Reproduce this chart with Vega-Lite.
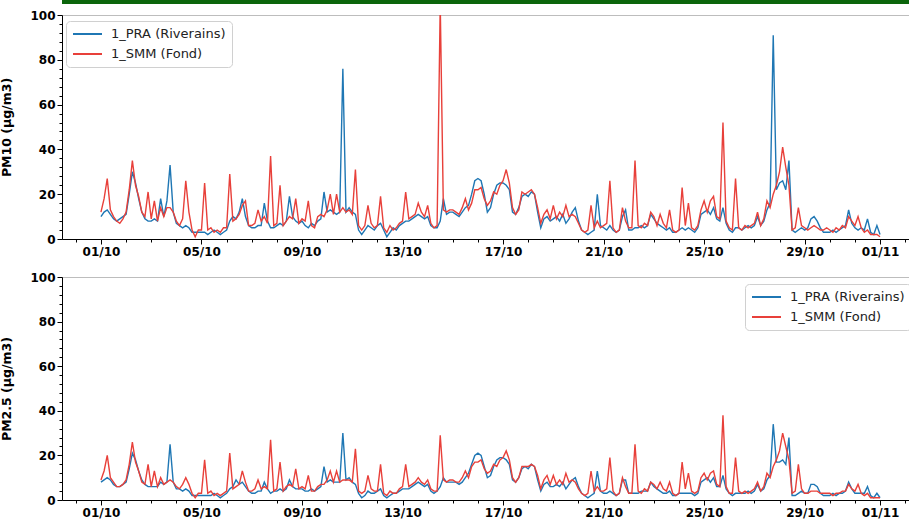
{
  "$schema": "https://vega.github.io/schema/vega-lite/v6.json",
  "padding": 0,
  "background": "white",
  "spacing": 4,
  "config": {
    "view": {"stroke": "#bdbdbd", "strokeWidth": 1},
    "axis": {"grid": false, "domainColor": "#000", "domainWidth": 1, "tickColor": "#000", "labelFont": "DejaVu Sans", "labelFontWeight": "bold", "labelFontSize": 12, "labelColor": "#000", "titleFont": "DejaVu Sans", "titleFontWeight": "bold", "titleFontSize": 12.5, "titleColor": "#000"}
  },
  "datasets": {
    "pm": [
      {"t":"2019-10-01 00:00","p10":10,"s10":12,"p25":8,"s25":9},
      {"t":"2019-10-01 03:00","p10":12,"s10":18,"p25":9,"s25":13},
      {"t":"2019-10-01 06:00","p10":13,"s10":27,"p25":10,"s25":20},
      {"t":"2019-10-01 09:00","p10":11,"s10":13,"p25":9,"s25":10},
      {"t":"2019-10-01 12:00","p10":9,"s10":10,"p25":7,"s25":8},
      {"t":"2019-10-01 15:00","p10":8,"s10":8,"p25":6,"s25":6},
      {"t":"2019-10-01 18:00","p10":9,"s10":7,"p25":6,"s25":6},
      {"t":"2019-10-01 21:00","p10":10,"s10":9,"p25":7,"s25":7},
      {"t":"2019-10-02 00:00","p10":11,"s10":12,"p25":8,"s25":9},
      {"t":"2019-10-02 03:00","p10":20,"s10":22,"p25":14,"s25":16},
      {"t":"2019-10-02 06:00","p10":30,"s10":35,"p25":21,"s25":26},
      {"t":"2019-10-02 09:00","p10":25,"s10":24,"p25":18,"s25":17},
      {"t":"2019-10-02 12:00","p10":18,"s10":19,"p25":13,"s25":13},
      {"t":"2019-10-02 15:00","p10":12,"s10":12,"p25":9,"s25":8},
      {"t":"2019-10-02 18:00","p10":9,"s10":10,"p25":7,"s25":7},
      {"t":"2019-10-02 21:00","p10":8,"s10":21,"p25":6,"s25":16},
      {"t":"2019-10-03 00:00","p10":8,"s10":9,"p25":6,"s25":6},
      {"t":"2019-10-03 03:00","p10":9,"s10":17,"p25":6,"s25":13},
      {"t":"2019-10-03 06:00","p10":8,"s10":8,"p25":6,"s25":6},
      {"t":"2019-10-03 09:00","p10":18,"s10":14,"p25":8,"s25":10},
      {"t":"2019-10-03 12:00","p10":10,"s10":10,"p25":7,"s25":7},
      {"t":"2019-10-03 15:00","p10":17,"s10":14,"p25":8,"s25":8},
      {"t":"2019-10-03 18:00","p10":33,"s10":14,"p25":25,"s25":9},
      {"t":"2019-10-03 21:00","p10":12,"s10":12,"p25":8,"s25":8},
      {"t":"2019-10-04 00:00","p10":7,"s10":8,"p25":5,"s25":6},
      {"t":"2019-10-04 03:00","p10":6,"s10":6,"p25":5,"s25":5},
      {"t":"2019-10-04 06:00","p10":5,"s10":9,"p25":4,"s25":7},
      {"t":"2019-10-04 09:00","p10":6,"s10":26,"p25":5,"s25":10},
      {"t":"2019-10-04 12:00","p10":5,"s10":12,"p25":4,"s25":7},
      {"t":"2019-10-04 15:00","p10":3,"s10":4,"p25":2,"s25":3},
      {"t":"2019-10-04 18:00","p10":3,"s10":1,"p25":2,"s25":1},
      {"t":"2019-10-04 21:00","p10":3,"s10":4,"p25":2,"s25":3},
      {"t":"2019-10-05 00:00","p10":3,"s10":4,"p25":2,"s25":3},
      {"t":"2019-10-05 03:00","p10":3,"s10":25,"p25":2,"s25":18},
      {"t":"2019-10-05 06:00","p10":2,"s10":4,"p25":2,"s25":3},
      {"t":"2019-10-05 09:00","p10":3,"s10":5,"p25":2,"s25":4},
      {"t":"2019-10-05 12:00","p10":4,"s10":3,"p25":3,"s25":2},
      {"t":"2019-10-05 15:00","p10":3,"s10":4,"p25":2,"s25":3},
      {"t":"2019-10-05 18:00","p10":2,"s10":3,"p25":1,"s25":2},
      {"t":"2019-10-05 21:00","p10":3,"s10":5,"p25":2,"s25":3},
      {"t":"2019-10-06 00:00","p10":4,"s10":5,"p25":3,"s25":4},
      {"t":"2019-10-06 03:00","p10":8,"s10":29,"p25":5,"s25":21},
      {"t":"2019-10-06 06:00","p10":10,"s10":8,"p25":6,"s25":5},
      {"t":"2019-10-06 09:00","p10":9,"s10":9,"p25":9,"s25":6},
      {"t":"2019-10-06 12:00","p10":12,"s10":11,"p25":7,"s25":7},
      {"t":"2019-10-06 15:00","p10":18,"s10":15,"p25":8,"s25":13},
      {"t":"2019-10-06 18:00","p10":10,"s10":17,"p25":6,"s25":8},
      {"t":"2019-10-06 21:00","p10":6,"s10":6,"p25":4,"s25":4},
      {"t":"2019-10-07 00:00","p10":5,"s10":6,"p25":3,"s25":4},
      {"t":"2019-10-07 03:00","p10":5,"s10":7,"p25":3,"s25":5},
      {"t":"2019-10-07 06:00","p10":6,"s10":13,"p25":4,"s25":9},
      {"t":"2019-10-07 09:00","p10":6,"s10":8,"p25":4,"s25":5},
      {"t":"2019-10-07 12:00","p10":16,"s10":10,"p25":8,"s25":6},
      {"t":"2019-10-07 15:00","p10":8,"s10":7,"p25":5,"s25":5},
      {"t":"2019-10-07 18:00","p10":5,"s10":37,"p25":3,"s25":27},
      {"t":"2019-10-07 21:00","p10":5,"s10":6,"p25":4,"s25":4},
      {"t":"2019-10-08 00:00","p10":6,"s10":7,"p25":4,"s25":5},
      {"t":"2019-10-08 03:00","p10":7,"s10":24,"p25":5,"s25":17},
      {"t":"2019-10-08 06:00","p10":6,"s10":6,"p25":4,"s25":4},
      {"t":"2019-10-08 09:00","p10":8,"s10":8,"p25":5,"s25":6},
      {"t":"2019-10-08 12:00","p10":19,"s10":10,"p25":9,"s25":7},
      {"t":"2019-10-08 15:00","p10":10,"s10":9,"p25":6,"s25":6},
      {"t":"2019-10-08 18:00","p10":8,"s10":18,"p25":5,"s25":14},
      {"t":"2019-10-08 21:00","p10":7,"s10":7,"p25":5,"s25":5},
      {"t":"2019-10-09 00:00","p10":8,"s10":9,"p25":5,"s25":6},
      {"t":"2019-10-09 03:00","p10":6,"s10":8,"p25":4,"s25":5},
      {"t":"2019-10-09 06:00","p10":5,"s10":17,"p25":4,"s25":11},
      {"t":"2019-10-09 09:00","p10":7,"s10":6,"p25":5,"s25":4},
      {"t":"2019-10-09 12:00","p10":6,"s10":5,"p25":4,"s25":4},
      {"t":"2019-10-09 15:00","p10":8,"s10":10,"p25":5,"s25":6},
      {"t":"2019-10-09 18:00","p10":9,"s10":11,"p25":6,"s25":7},
      {"t":"2019-10-09 21:00","p10":21,"s10":10,"p25":15,"s25":7},
      {"t":"2019-10-10 00:00","p10":12,"s10":13,"p25":8,"s25":9},
      {"t":"2019-10-10 03:00","p10":13,"s10":20,"p25":9,"s25":13},
      {"t":"2019-10-10 06:00","p10":12,"s10":11,"p25":8,"s25":8},
      {"t":"2019-10-10 09:00","p10":11,"s10":20,"p25":8,"s25":13},
      {"t":"2019-10-10 12:00","p10":12,"s10":12,"p25":8,"s25":8},
      {"t":"2019-10-10 15:00","p10":76,"s10":14,"p25":30,"s25":9},
      {"t":"2019-10-10 18:00","p10":12,"s10":12,"p25":9,"s25":9},
      {"t":"2019-10-10 21:00","p10":14,"s10":13,"p25":10,"s25":9},
      {"t":"2019-10-11 00:00","p10":12,"s10":11,"p25":8,"s25":8},
      {"t":"2019-10-11 03:00","p10":11,"s10":31,"p25":7,"s25":23},
      {"t":"2019-10-11 06:00","p10":4,"s10":6,"p25":3,"s25":4},
      {"t":"2019-10-11 09:00","p10":2,"s10":4,"p25":1,"s25":3},
      {"t":"2019-10-11 12:00","p10":4,"s10":6,"p25":2,"s25":4},
      {"t":"2019-10-11 15:00","p10":6,"s10":15,"p25":4,"s25":11},
      {"t":"2019-10-11 18:00","p10":5,"s10":7,"p25":3,"s25":5},
      {"t":"2019-10-11 21:00","p10":4,"s10":5,"p25":3,"s25":4},
      {"t":"2019-10-12 00:00","p10":6,"s10":6,"p25":4,"s25":4},
      {"t":"2019-10-12 03:00","p10":7,"s10":19,"p25":5,"s25":16},
      {"t":"2019-10-12 06:00","p10":4,"s10":5,"p25":2,"s25":3},
      {"t":"2019-10-12 09:00","p10":1,"s10":3,"p25":1,"s25":2},
      {"t":"2019-10-12 12:00","p10":3,"s10":6,"p25":2,"s25":4},
      {"t":"2019-10-12 15:00","p10":5,"s10":4,"p25":3,"s25":3},
      {"t":"2019-10-12 18:00","p10":4,"s10":5,"p25":3,"s25":3},
      {"t":"2019-10-12 21:00","p10":6,"s10":7,"p25":4,"s25":5},
      {"t":"2019-10-13 00:00","p10":7,"s10":8,"p25":5,"s25":6},
      {"t":"2019-10-13 03:00","p10":8,"s10":21,"p25":5,"s25":16},
      {"t":"2019-10-13 06:00","p10":8,"s10":9,"p25":5,"s25":6},
      {"t":"2019-10-13 09:00","p10":9,"s10":10,"p25":6,"s25":7},
      {"t":"2019-10-13 12:00","p10":10,"s10":11,"p25":7,"s25":8},
      {"t":"2019-10-13 15:00","p10":11,"s10":16,"p25":8,"s25":10},
      {"t":"2019-10-13 18:00","p10":10,"s10":12,"p25":7,"s25":8},
      {"t":"2019-10-13 21:00","p10":9,"s10":10,"p25":6,"s25":7},
      {"t":"2019-10-14 00:00","p10":10,"s10":15,"p25":7,"s25":9},
      {"t":"2019-10-14 03:00","p10":6,"s10":7,"p25":4,"s25":5},
      {"t":"2019-10-14 06:00","p10":5,"s10":5,"p25":3,"s25":4},
      {"t":"2019-10-14 09:00","p10":5,"s10":6,"p25":4,"s25":4},
      {"t":"2019-10-14 12:00","p10":8,"s10":105,"p25":6,"s25":29},
      {"t":"2019-10-14 15:00","p10":18,"s10":13,"p25":10,"s25":9},
      {"t":"2019-10-14 18:00","p10":11,"s10":12,"p25":8,"s25":8},
      {"t":"2019-10-14 21:00","p10":12,"s10":13,"p25":8,"s25":9},
      {"t":"2019-10-15 00:00","p10":12,"s10":13,"p25":8,"s25":9},
      {"t":"2019-10-15 03:00","p10":11,"s10":12,"p25":8,"s25":8},
      {"t":"2019-10-15 06:00","p10":10,"s10":11,"p25":7,"s25":8},
      {"t":"2019-10-15 09:00","p10":12,"s10":14,"p25":8,"s25":10},
      {"t":"2019-10-15 12:00","p10":14,"s10":18,"p25":10,"s25":13},
      {"t":"2019-10-15 15:00","p10":15,"s10":13,"p25":12,"s25":10},
      {"t":"2019-10-15 18:00","p10":20,"s10":16,"p25":16,"s25":15},
      {"t":"2019-10-15 21:00","p10":26,"s10":22,"p25":20,"s25":17},
      {"t":"2019-10-16 00:00","p10":27,"s10":22,"p25":21,"s25":17},
      {"t":"2019-10-16 03:00","p10":26,"s10":23,"p25":20,"s25":18},
      {"t":"2019-10-16 06:00","p10":20,"s10":18,"p25":15,"s25":14},
      {"t":"2019-10-16 09:00","p10":12,"s10":15,"p25":10,"s25":12},
      {"t":"2019-10-16 12:00","p10":14,"s10":17,"p25":11,"s25":13},
      {"t":"2019-10-16 15:00","p10":20,"s10":21,"p25":15,"s25":16},
      {"t":"2019-10-16 18:00","p10":24,"s10":20,"p25":18,"s25":15},
      {"t":"2019-10-16 21:00","p10":25,"s10":24,"p25":19,"s25":18},
      {"t":"2019-10-17 00:00","p10":25,"s10":26,"p25":19,"s25":19},
      {"t":"2019-10-17 03:00","p10":24,"s10":31,"p25":18,"s25":22},
      {"t":"2019-10-17 06:00","p10":22,"s10":25,"p25":16,"s25":18},
      {"t":"2019-10-17 09:00","p10":12,"s10":14,"p25":9,"s25":10},
      {"t":"2019-10-17 12:00","p10":11,"s10":11,"p25":8,"s25":8},
      {"t":"2019-10-17 15:00","p10":14,"s10":13,"p25":10,"s25":10},
      {"t":"2019-10-17 18:00","p10":19,"s10":21,"p25":14,"s25":15},
      {"t":"2019-10-17 21:00","p10":20,"s10":20,"p25":15,"s25":15},
      {"t":"2019-10-18 00:00","p10":19,"s10":21,"p25":14,"s25":15},
      {"t":"2019-10-18 03:00","p10":21,"s10":22,"p25":16,"s25":16},
      {"t":"2019-10-18 06:00","p10":20,"s10":20,"p25":15,"s25":15},
      {"t":"2019-10-18 09:00","p10":12,"s10":14,"p25":9,"s25":11},
      {"t":"2019-10-18 12:00","p10":5,"s10":7,"p25":4,"s25":5},
      {"t":"2019-10-18 15:00","p10":9,"s10":11,"p25":7,"s25":9},
      {"t":"2019-10-18 18:00","p10":10,"s10":13,"p25":8,"s25":11},
      {"t":"2019-10-18 21:00","p10":8,"s10":9,"p25":6,"s25":7},
      {"t":"2019-10-19 00:00","p10":9,"s10":15,"p25":6,"s25":11},
      {"t":"2019-10-19 03:00","p10":10,"s10":9,"p25":7,"s25":7},
      {"t":"2019-10-19 06:00","p10":8,"s10":12,"p25":6,"s25":9},
      {"t":"2019-10-19 09:00","p10":11,"s10":10,"p25":8,"s25":7},
      {"t":"2019-10-19 12:00","p10":7,"s10":15,"p25":5,"s25":12},
      {"t":"2019-10-19 15:00","p10":9,"s10":10,"p25":7,"s25":8},
      {"t":"2019-10-19 18:00","p10":12,"s10":11,"p25":9,"s25":9},
      {"t":"2019-10-19 21:00","p10":14,"s10":10,"p25":10,"s25":8},
      {"t":"2019-10-20 00:00","p10":8,"s10":7,"p25":6,"s25":5},
      {"t":"2019-10-20 03:00","p10":4,"s10":4,"p25":3,"s25":3},
      {"t":"2019-10-20 06:00","p10":3,"s10":3,"p25":2,"s25":2},
      {"t":"2019-10-20 09:00","p10":2,"s10":4,"p25":1,"s25":3},
      {"t":"2019-10-20 12:00","p10":3,"s10":15,"p25":2,"s25":13},
      {"t":"2019-10-20 15:00","p10":4,"s10":5,"p25":3,"s25":4},
      {"t":"2019-10-20 18:00","p10":20,"s10":8,"p25":13,"s25":6},
      {"t":"2019-10-20 21:00","p10":6,"s10":5,"p25":4,"s25":4},
      {"t":"2019-10-21 00:00","p10":5,"s10":6,"p25":3,"s25":4},
      {"t":"2019-10-21 03:00","p10":4,"s10":7,"p25":3,"s25":5},
      {"t":"2019-10-21 06:00","p10":6,"s10":26,"p25":4,"s25":19},
      {"t":"2019-10-21 09:00","p10":4,"s10":5,"p25":3,"s25":4},
      {"t":"2019-10-21 12:00","p10":3,"s10":3,"p25":2,"s25":2},
      {"t":"2019-10-21 15:00","p10":4,"s10":4,"p25":3,"s25":3},
      {"t":"2019-10-21 18:00","p10":10,"s10":14,"p25":9,"s25":10},
      {"t":"2019-10-21 21:00","p10":13,"s10":8,"p25":9,"s25":6},
      {"t":"2019-10-22 00:00","p10":4,"s10":5,"p25":3,"s25":3},
      {"t":"2019-10-22 03:00","p10":4,"s10":5,"p25":3,"s25":3},
      {"t":"2019-10-22 06:00","p10":5,"s10":35,"p25":3,"s25":25},
      {"t":"2019-10-22 09:00","p10":5,"s10":6,"p25":3,"s25":4},
      {"t":"2019-10-22 12:00","p10":6,"s10":5,"p25":4,"s25":3},
      {"t":"2019-10-22 15:00","p10":5,"s10":7,"p25":4,"s25":5},
      {"t":"2019-10-22 18:00","p10":6,"s10":6,"p25":4,"s25":4},
      {"t":"2019-10-22 21:00","p10":11,"s10":12,"p25":8,"s25":8},
      {"t":"2019-10-23 00:00","p10":9,"s10":10,"p25":6,"s25":7},
      {"t":"2019-10-23 03:00","p10":7,"s10":6,"p25":5,"s25":5},
      {"t":"2019-10-23 06:00","p10":6,"s10":11,"p25":4,"s25":8},
      {"t":"2019-10-23 09:00","p10":5,"s10":7,"p25":3,"s25":5},
      {"t":"2019-10-23 12:00","p10":4,"s10":5,"p25":3,"s25":4},
      {"t":"2019-10-23 15:00","p10":5,"s10":13,"p25":4,"s25":8},
      {"t":"2019-10-23 18:00","p10":3,"s10":4,"p25":2,"s25":3},
      {"t":"2019-10-23 21:00","p10":3,"s10":3,"p25":2,"s25":2},
      {"t":"2019-10-24 00:00","p10":4,"s10":4,"p25":3,"s25":3},
      {"t":"2019-10-24 03:00","p10":5,"s10":23,"p25":3,"s25":17},
      {"t":"2019-10-24 06:00","p10":4,"s10":6,"p25":3,"s25":5},
      {"t":"2019-10-24 09:00","p10":5,"s10":16,"p25":3,"s25":12},
      {"t":"2019-10-24 12:00","p10":4,"s10":5,"p25":3,"s25":4},
      {"t":"2019-10-24 15:00","p10":3,"s10":4,"p25":2,"s25":3},
      {"t":"2019-10-24 18:00","p10":5,"s10":6,"p25":3,"s25":4},
      {"t":"2019-10-24 21:00","p10":11,"s10":13,"p25":8,"s25":10},
      {"t":"2019-10-25 00:00","p10":12,"s10":17,"p25":9,"s25":12},
      {"t":"2019-10-25 03:00","p10":13,"s10":12,"p25":10,"s25":9},
      {"t":"2019-10-25 06:00","p10":11,"s10":17,"p25":8,"s25":12},
      {"t":"2019-10-25 09:00","p10":14,"s10":19,"p25":10,"s25":13},
      {"t":"2019-10-25 12:00","p10":9,"s10":10,"p25":6,"s25":7},
      {"t":"2019-10-25 15:00","p10":8,"s10":9,"p25":6,"s25":6},
      {"t":"2019-10-25 18:00","p10":14,"s10":52,"p25":11,"s25":38},
      {"t":"2019-10-25 21:00","p10":7,"s10":8,"p25":5,"s25":6},
      {"t":"2019-10-26 00:00","p10":4,"s10":5,"p25":3,"s25":3},
      {"t":"2019-10-26 03:00","p10":3,"s10":4,"p25":2,"s25":3},
      {"t":"2019-10-26 06:00","p10":5,"s10":27,"p25":3,"s25":19},
      {"t":"2019-10-26 09:00","p10":5,"s10":5,"p25":3,"s25":4},
      {"t":"2019-10-26 12:00","p10":4,"s10":4,"p25":3,"s25":3},
      {"t":"2019-10-26 15:00","p10":5,"s10":6,"p25":3,"s25":4},
      {"t":"2019-10-26 18:00","p10":6,"s10":5,"p25":4,"s25":3},
      {"t":"2019-10-26 21:00","p10":5,"s10":6,"p25":3,"s25":4},
      {"t":"2019-10-27 00:00","p10":6,"s10":7,"p25":4,"s25":5},
      {"t":"2019-10-27 03:00","p10":10,"s10":12,"p25":7,"s25":8},
      {"t":"2019-10-27 06:00","p10":6,"s10":6,"p25":4,"s25":4},
      {"t":"2019-10-27 09:00","p10":8,"s10":9,"p25":5,"s25":6},
      {"t":"2019-10-27 12:00","p10":13,"s10":17,"p25":9,"s25":12},
      {"t":"2019-10-27 15:00","p10":16,"s10":14,"p25":11,"s25":10},
      {"t":"2019-10-27 18:00","p10":91,"s10":20,"p25":34,"s25":15},
      {"t":"2019-10-27 21:00","p10":22,"s10":24,"p25":17,"s25":18},
      {"t":"2019-10-28 00:00","p10":25,"s10":30,"p25":17,"s25":22},
      {"t":"2019-10-28 03:00","p10":26,"s10":41,"p25":18,"s25":30},
      {"t":"2019-10-28 06:00","p10":22,"s10":32,"p25":16,"s25":24},
      {"t":"2019-10-28 09:00","p10":35,"s10":24,"p25":28,"s25":18},
      {"t":"2019-10-28 12:00","p10":4,"s10":4,"p25":2,"s25":3},
      {"t":"2019-10-28 15:00","p10":3,"s10":5,"p25":2,"s25":4},
      {"t":"2019-10-28 18:00","p10":4,"s10":14,"p25":3,"s25":16},
      {"t":"2019-10-28 21:00","p10":5,"s10":6,"p25":4,"s25":5},
      {"t":"2019-10-29 00:00","p10":4,"s10":5,"p25":3,"s25":3},
      {"t":"2019-10-29 03:00","p10":5,"s10":4,"p25":3,"s25":3},
      {"t":"2019-10-29 06:00","p10":9,"s10":5,"p25":7,"s25":4},
      {"t":"2019-10-29 09:00","p10":10,"s10":6,"p25":7,"s25":4},
      {"t":"2019-10-29 12:00","p10":8,"s10":5,"p25":6,"s25":4},
      {"t":"2019-10-29 15:00","p10":5,"s10":4,"p25":3,"s25":3},
      {"t":"2019-10-29 18:00","p10":3,"s10":4,"p25":2,"s25":3},
      {"t":"2019-10-29 21:00","p10":3,"s10":5,"p25":2,"s25":3},
      {"t":"2019-10-30 00:00","p10":3,"s10":4,"p25":2,"s25":3},
      {"t":"2019-10-30 03:00","p10":4,"s10":3,"p25":3,"s25":2},
      {"t":"2019-10-30 06:00","p10":3,"s10":5,"p25":2,"s25":3},
      {"t":"2019-10-30 09:00","p10":4,"s10":4,"p25":3,"s25":3},
      {"t":"2019-10-30 12:00","p10":5,"s10":6,"p25":3,"s25":4},
      {"t":"2019-10-30 15:00","p10":6,"s10":5,"p25":4,"s25":4},
      {"t":"2019-10-30 18:00","p10":13,"s10":10,"p25":8,"s25":7},
      {"t":"2019-10-30 21:00","p10":7,"s10":8,"p25":5,"s25":5},
      {"t":"2019-10-31 00:00","p10":5,"s10":6,"p25":3,"s25":4},
      {"t":"2019-10-31 03:00","p10":4,"s10":10,"p25":3,"s25":7},
      {"t":"2019-10-31 06:00","p10":5,"s10":5,"p25":3,"s25":3},
      {"t":"2019-10-31 09:00","p10":4,"s10":3,"p25":3,"s25":2},
      {"t":"2019-10-31 12:00","p10":9,"s10":4,"p25":6,"s25":3},
      {"t":"2019-10-31 15:00","p10":3,"s10":2,"p25":2,"s25":1},
      {"t":"2019-10-31 18:00","p10":2,"s10":2,"p25":1,"s25":1},
      {"t":"2019-10-31 21:00","p10":6,"s10":2,"p25":3,"s25":1},
      {"t":"2019-11-01 00:00","p10":2,"s10":1,"p25":1,"s25":1}
    ]
  },
  "vconcat": [
    {
      "width": 909,
      "height": 4,
      "data": {"values": [{"band": "header"}]},
      "mark": {"type": "rect", "color": "#0b650b"},
      "encoding": {},
      "view": {"stroke": null}
    },
    {
      "spacing": 12,
      "resolve": {"scale": {"color": "independent"}, "legend": {"color": "independent"}},
      "vconcat": [
        {
          "width": 857,
          "height": 224,
          "data": {"name": "pm"},
          "transform": [{"fold": ["p10", "s10"], "as": ["series", "value"]}],
          "mark": {"type": "line", "clip": true, "strokeWidth": 1.4},
          "encoding": {
            "x": {
              "field": "t", "type": "temporal",
              "scale": {"domain": [{"year": 2019, "month": 9, "date": 29, "hours": 10, "minutes": 48}, {"year": 2019, "month": 11, "date": 2, "hours": 13, "minutes": 12}]},
              "axis": {
                "title": null, "tickCount": {"interval": "day", "step": 1}, "format": "%d/%m",
                "labelExpr": "(month(datum.value)==9 && (date(datum.value)-1)%4==0) || (month(datum.value)==10 && date(datum.value)==1) ? datum.label : ''",
                "tickSize": {"condition": {"test": "(month(datum.value)==9 && (date(datum.value)-1)%4==0) || (month(datum.value)==10 && date(datum.value)==1)", "value": 5}, "value": 3},
                "labelPadding": 2, "labelFlush": false, "labelOverlap": false
              }
            },
            "y": {
              "field": "value", "type": "quantitative",
              "scale": {"domain": [0, 100], "nice": false},
              "axis": {
                "title": "PM10 (µg/m3)", "values": [0,4,8,12,16,20,24,28,32,36,40,44,48,52,56,60,64,68,72,76,80,84,88,92,96,100],
                "labelExpr": "datum.value % 20 === 0 ? datum.label : ''",
                "tickSize": {"condition": {"test": "datum.value % 20 === 0", "value": 5}, "value": 3},
                "labelPadding": 2, "titlePadding": 16, "labelOverlap": false
              }
            },
            "color": {
              "field": "series", "type": "nominal",
              "scale": {"domain": ["p10", "s10"], "range": ["#1f77b4", "#e8403a"]},
              "legend": {
                "orient": "none", "legendX": 4, "legendY": 6, "title": null, "direction": "vertical",
                "symbolType": "stroke", "symbolSize": 841, "symbolStrokeWidth": 2, "clipHeight": 14,
                "labelFont": "DejaVu Sans", "labelFontSize": 13, "labelColor": "#222", "labelOffset": 8,
                "labelExpr": "datum.label == 'p10' ? '1_PRA (Riverains)' : '1_SMM (Fond)'",
                "fillColor": "rgba(255,255,255,0.85)", "strokeColor": "#d0d0d0", "cornerRadius": 4, "padding": 6, "rowPadding": 6
              }
            }
          }
        },
        {
          "width": 857,
          "height": 223,
          "data": {"name": "pm"},
          "transform": [{"fold": ["p25", "s25"], "as": ["series", "value"]}],
          "mark": {"type": "line", "clip": true, "strokeWidth": 1.4},
          "encoding": {
            "x": {
              "field": "t", "type": "temporal",
              "scale": {"domain": [{"year": 2019, "month": 9, "date": 29, "hours": 10, "minutes": 48}, {"year": 2019, "month": 11, "date": 2, "hours": 13, "minutes": 12}]},
              "axis": {
                "title": null, "tickCount": {"interval": "day", "step": 1}, "format": "%d/%m",
                "labelExpr": "(month(datum.value)==9 && (date(datum.value)-1)%4==0) || (month(datum.value)==10 && date(datum.value)==1) ? datum.label : ''",
                "tickSize": {"condition": {"test": "(month(datum.value)==9 && (date(datum.value)-1)%4==0) || (month(datum.value)==10 && date(datum.value)==1)", "value": 5}, "value": 3},
                "labelPadding": 2, "labelFlush": false, "labelOverlap": false
              }
            },
            "y": {
              "field": "value", "type": "quantitative",
              "scale": {"domain": [0, 100], "nice": false},
              "axis": {
                "title": "PM2.5 (µg/m3)", "values": [0,4,8,12,16,20,24,28,32,36,40,44,48,52,56,60,64,68,72,76,80,84,88,92,96,100],
                "labelExpr": "datum.value % 20 === 0 ? datum.label : ''",
                "tickSize": {"condition": {"test": "datum.value % 20 === 0", "value": 5}, "value": 3},
                "labelPadding": 2, "titlePadding": 16, "labelOverlap": false
              }
            },
            "color": {
              "field": "series", "type": "nominal",
              "scale": {"domain": ["p25", "s25"], "range": ["#1f77b4", "#e8403a"]},
              "legend": {
                "orient": "none", "legendX": 683, "legendY": 7, "title": null, "direction": "vertical",
                "symbolType": "stroke", "symbolSize": 841, "symbolStrokeWidth": 2, "clipHeight": 14,
                "labelFont": "DejaVu Sans", "labelFontSize": 13, "labelColor": "#222", "labelOffset": 8,
                "labelExpr": "datum.label == 'p25' ? '1_PRA (Riverains)' : '1_SMM (Fond)'",
                "fillColor": "rgba(255,255,255,0.85)", "strokeColor": "#d0d0d0", "cornerRadius": 4, "padding": 6, "rowPadding": 6
              }
            }
          }
        }
      ]
    }
  ]
}
